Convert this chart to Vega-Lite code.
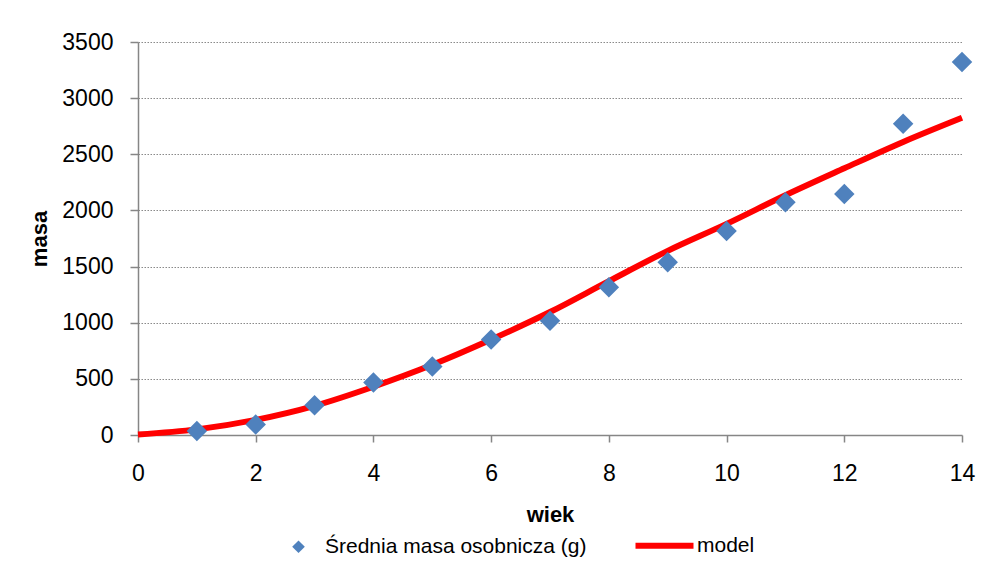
{
  "$schema": "https://vega.github.io/schema/vega-lite/v6.json",
  "width": 824,
  "height": 393,
  "autosize": {"type": "none"},
  "padding": {"left": 138, "top": 42, "right": 33, "bottom": 128},
  "background": "white",
  "config": {
    "view": {"stroke": null},
    "font": "Liberation Sans",
    "axis": {
      "labelFont": "Liberation Sans",
      "labelFontSize": 23,
      "labelColor": "#000000",
      "titleFont": "Liberation Sans",
      "titleFontSize": 22,
      "titleFontWeight": "bold",
      "titleColor": "#000000",
      "domainColor": "#868686",
      "domainWidth": 1.5,
      "tickColor": "#868686",
      "tickWidth": 1.5
    }
  },
  "datasets": {
    "pomiary": [
      {"wiek": 1, "masa": 35},
      {"wiek": 2, "masa": 93},
      {"wiek": 3, "masa": 266},
      {"wiek": 4, "masa": 467},
      {"wiek": 5, "masa": 611},
      {"wiek": 6, "masa": 851},
      {"wiek": 7, "masa": 1018},
      {"wiek": 8, "masa": 1315},
      {"wiek": 9, "masa": 1539},
      {"wiek": 10, "masa": 1817},
      {"wiek": 11, "masa": 2073},
      {"wiek": 12, "masa": 2147},
      {"wiek": 13, "masa": 2771},
      {"wiek": 14, "masa": 3322}
    ],
    "model": [
      {"wiek": 0, "masa": 5},
      {"wiek": 1, "masa": 50},
      {"wiek": 2, "masa": 135},
      {"wiek": 3, "masa": 260},
      {"wiek": 4, "masa": 430},
      {"wiek": 5, "masa": 625},
      {"wiek": 6, "masa": 850},
      {"wiek": 7, "masa": 1095},
      {"wiek": 8, "masa": 1370},
      {"wiek": 9, "masa": 1640},
      {"wiek": 10, "masa": 1880},
      {"wiek": 11, "masa": 2135},
      {"wiek": 12, "masa": 2375},
      {"wiek": 13, "masa": 2610},
      {"wiek": 14, "masa": 2825}
    ]
  },
  "layer": [
    {
      "data": {"name": "model"},
      "mark": {"type": "line", "strokeWidth": 6, "interpolate": "monotone", "clip": false},
      "encoding": {
        "x": {
          "field": "wiek",
          "type": "quantitative",
          "scale": {"domain": [0, 14], "nice": false},
          "axis": {
            "title": "wiek",
            "values": [0, 2, 4, 6, 8, 10, 12, 14],
            "format": "d",
            "grid": false,
            "tickSize": 7,
            "labelPadding": 20,
            "titlePadding": 19,
            "labelFlush": false
          }
        },
        "y": {
          "field": "masa",
          "type": "quantitative",
          "scale": {"domain": [0, 3500], "nice": false},
          "axis": {
            "title": "masa",
            "values": [0, 500, 1000, 1500, 2000, 2500, 3000, 3500],
            "format": "d",
            "grid": true,
            "gridColor": "#8a8a8a",
            "gridDash": [1.5, 1.5],
            "gridWidth": 1.2,
            "tickSize": 8,
            "labelPadding": 17,
            "titlePadding": 10
          }
        },
        "color": {
          "datum": "model",
          "type": "nominal",
          "scale": {"domain": ["Średnia masa osobnicza (g)", "model"], "range": ["#4F81BD", "#FF0000"]},
          "legend": {
            "orient": "none",
            "legendX": 150,
            "legendY": 493,
            "direction": "horizontal",
            "title": null,
            "labelFont": "Liberation Sans",
            "labelFontSize": 21,
            "labelColor": "#000000",
            "labelLimit": 0,
            "labelOffset": 16,
            "columnPadding": 36,
            "symbolStrokeWidth": 6,
            "encode": {
              "symbols": {
                "update": {
                  "shape": {"signal": "datum.value === 'model' ? 'stroke' : 'diamond'"},
                  "size": {"signal": "datum.value === 'model' ? 3364 : 160"},
                  "fill": {"signal": "datum.value === 'model' ? 'transparent' : '#4F81BD'"},
                  "stroke": {"signal": "datum.value === 'model' ? '#FF0000' : 'transparent'"},
                  "strokeWidth": {"signal": "datum.value === 'model' ? 6 : 0"},
                  "opacity": {"value": 1},
                  "fillOpacity": {"value": 1},
                  "strokeOpacity": {"value": 1}
                }
              },
              "labels": {
                "update": {
                  "dx": {"signal": "datum.value === 'model' ? 6 : 0"}
                }
              }
            }
          }
        }
      }
    },
    {
      "data": {"name": "pomiary"},
      "mark": {"type": "point", "shape": "diamond", "filled": true, "size": 420, "opacity": 1, "clip": false},
      "encoding": {
        "x": {"field": "wiek", "type": "quantitative"},
        "y": {"field": "masa", "type": "quantitative"},
        "color": {"datum": "Średnia masa osobnicza (g)", "type": "nominal"}
      }
    }
  ]
}
